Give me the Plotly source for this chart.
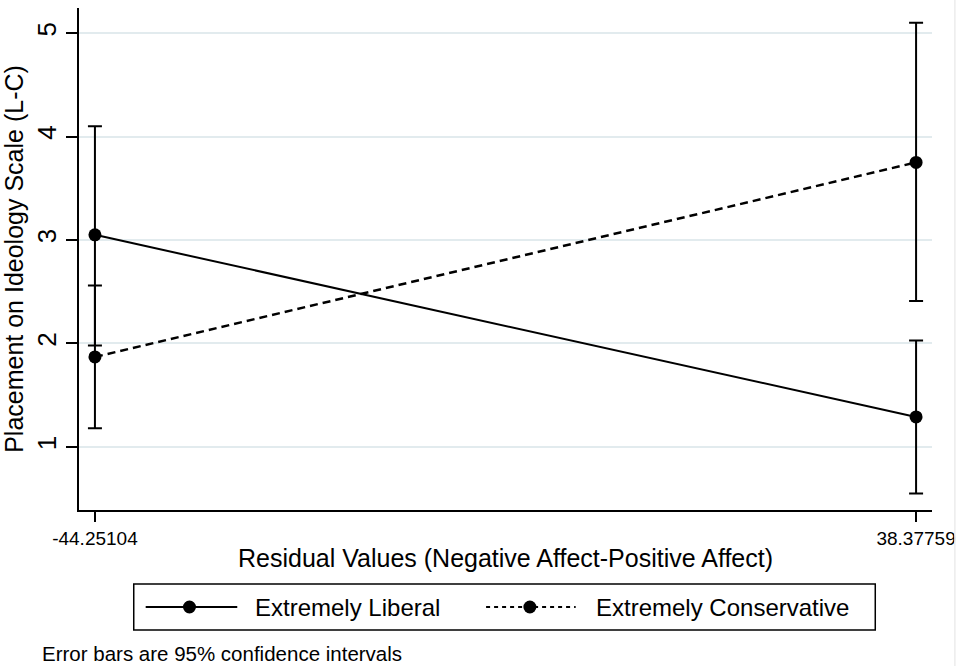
import plotly.graph_objects as go

# Residual values at which predictions were computed
x_vals = [-44.25104, 38.37759]
x_labels = ["-44.25104", "38.37759"]

# Predicted placement and 95% CI bounds
liberal_y = [3.05, 1.29]
liberal_lo = [1.98, 0.55]
liberal_hi = [4.10, 2.03]

conserv_y = [1.87, 3.75]
conserv_lo = [1.18, 2.41]
conserv_hi = [2.56, 5.10]

series_names = ["Extremely Liberal", "Extremely Conservative"]
note_text = "Error bars are 95% confidence intervals"

FONT = "Liberation Sans, Arial, Helvetica, sans-serif"
W, H = 964, 666
ML, MR, MT, MB = 79, 28, 8, 156
PW, PH = W - ML - MR, H - MT - MB


def px(xp):
    return (xp - ML) / PW


def py(yp):
    return (H - MB - yp) / PH


def err(y, lo, hi):
    return dict(type="data", symmetric=False,
                array=[h - v for v, h in zip(y, hi)],
                arrayminus=[v - l for v, l in zip(y, lo)],
                color="black", thickness=2, width=7)


fig = go.Figure()
fig.add_trace(go.Scatter(
    x=x_vals, y=liberal_y, mode="lines+markers", name=series_names[0],
    line=dict(color="black", width=2),
    marker=dict(color="black", size=13),
    error_y=err(liberal_y, liberal_lo, liberal_hi),
))
fig.add_trace(go.Scatter(
    x=x_vals, y=conserv_y, mode="lines+markers", name=series_names[1],
    line=dict(color="black", width=2.5, dash="8px,5px"),
    marker=dict(color="black", size=13),
    error_y=err(conserv_y, conserv_lo, conserv_hi),
))

# hand-built legend box beneath the plot
shapes = []
box_l, box_r, box_t, box_b = 134, 879, 584, 630
key_y = 607
shapes.append(dict(type="rect", xref="paper", yref="paper",
                   x0=px(box_l), x1=px(box_r), y0=py(box_b), y1=py(box_t),
                   line=dict(color="black", width=1.5), fillcolor="white"))
keys = [(146, 238, 190, 254, "solid", 2), (488, 578, 532, 596, "4px,4px", 2)]
annotations = []
for (k0, k1, kc, kt, dash, lw), name in zip(keys, series_names):
    shapes.append(dict(type="line", xref="paper", yref="paper",
                       x0=px(k0), x1=px(k1), y0=py(key_y), y1=py(key_y),
                       line=dict(color="black", width=lw, dash=dash)))
    shapes.append(dict(type="circle", xref="paper", yref="paper",
                       xsizemode="pixel", ysizemode="pixel",
                       xanchor=px(kc), yanchor=py(key_y),
                       x0=-6.5, x1=6.5, y0=-6.5, y1=6.5,
                       fillcolor="black", line=dict(color="black", width=0)))
    annotations.append(dict(xref="paper", yref="paper", x=px(kt), y=py(key_y),
                            xanchor="left", yanchor="middle", showarrow=False,
                            text=name, font=dict(family=FONT, size=24, color="black")))

annotations.append(dict(xref="paper", yref="paper", x=px(40), y=py(653),
                        xanchor="left", yanchor="middle", showarrow=False,
                        text=note_text, font=dict(family=FONT, size=20.5, color="black")))

# faint frame edge on the right
shapes.append(dict(type="line", xref="paper", yref="paper",
                   x0=px(959), x1=px(959), y0=py(H), y1=py(0),
                   line=dict(color="#ececec", width=1.5)))

fig.update_layout(
    width=W, height=H,
    margin=dict(l=ML, r=MR, t=MT, b=MB, pad=0),
    paper_bgcolor="white", plot_bgcolor="white",
    showlegend=False,
    font=dict(family=FONT, color="black"),
    shapes=shapes, annotations=annotations,
    xaxis=dict(
        range=[-45.854, 39.98],
        tickvals=x_vals, ticktext=x_labels,
        tickfont=dict(size=19),
        ticks="outside", ticklen=10, tickwidth=1.5, tickcolor="black",
        showline=True, linecolor="black", linewidth=1.5,
        showgrid=False, zeroline=False,
        title=dict(text="Residual Values (Negative Affect-Positive Affect)",
                   font=dict(size=25), standoff=2),
    ),
    yaxis=dict(
        range=[0.391, 5.242],
        tickvals=[1, 2, 3, 4, 5],
        tickangle=-90,
        tickfont=dict(size=26),
        ticks="outside", ticklen=11, tickwidth=1.5, tickcolor="black",
        showline=True, linecolor="black", linewidth=1.5,
        showgrid=True, gridcolor="#e2ebee", gridwidth=1.5,
        zeroline=False,
        title=dict(text="Placement on Ideology Scale (L-C)",
                   font=dict(size=25), standoff=4),
    ),
)

fig.write_html("out.html")
